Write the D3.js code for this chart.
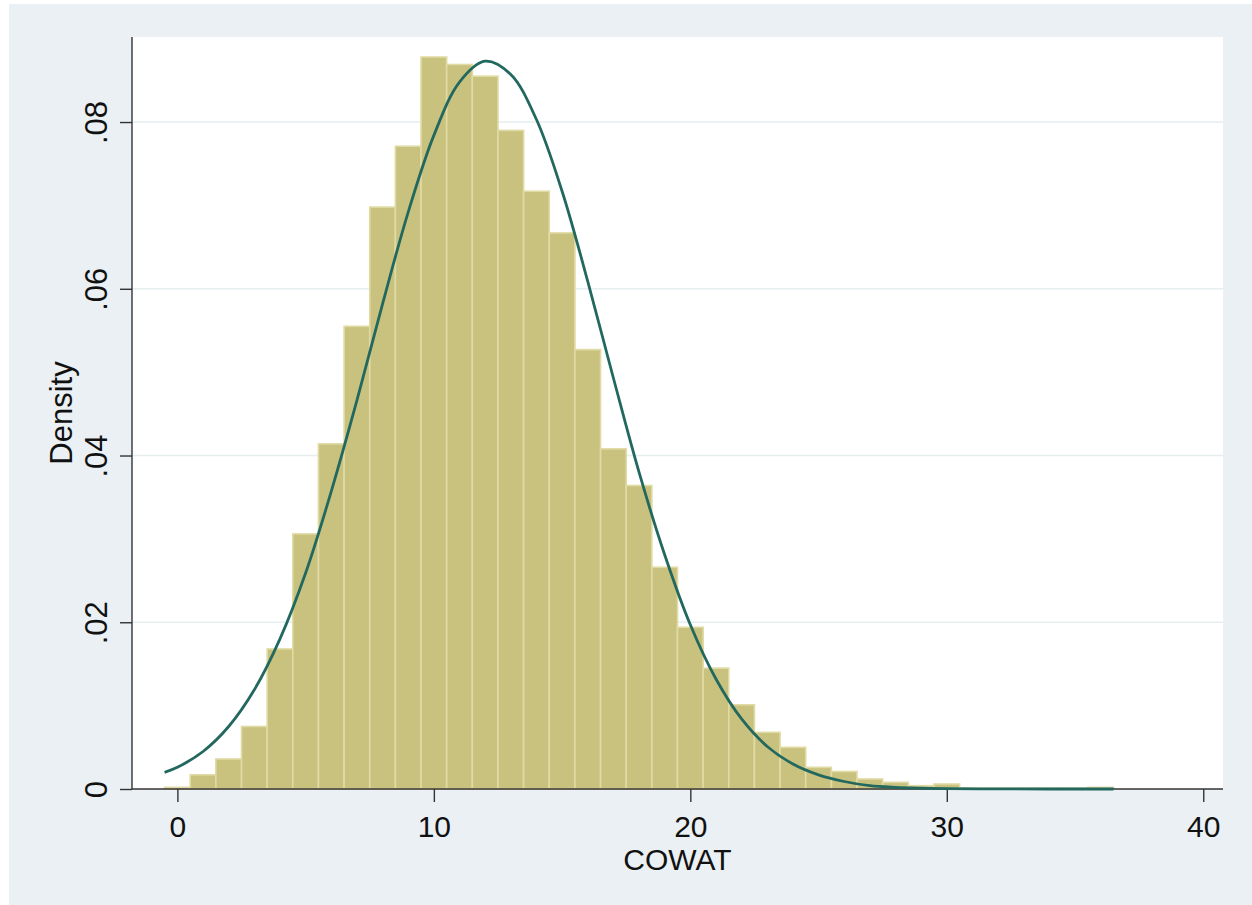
<!DOCTYPE html>
<html>
<head>
<meta charset="utf-8">
<script src="https://cdn.jsdelivr.net/npm/d3@7"></script>
<style>
  html, body { margin: 0; padding: 0; background: #fff; }
  svg { display: block; font-family: "Liberation Sans", Arial, Helvetica, sans-serif; }
</style>
</head>
<body>
<svg id="chart" width="1252" height="905"></svg>
<script>
// histogram bins: centred on integer COWAT scores, width 1
const binCenters = d3.range(0, 37);
const binDensity = [
  0.0002, 0.0017, 0.0036, 0.0075, 0.0168, 0.0306, 0.0414, 0.0555, 0.0698, 0.0771,
  0.0878, 0.0869, 0.0855, 0.0790, 0.0717, 0.0667, 0.0527, 0.0408, 0.0364, 0.0266,
  0.0194, 0.0145, 0.0101, 0.0068, 0.0050, 0.0026, 0.0021, 0.0012, 0.0008, 0.0004,
  0.0006, 0.0001, 0.0001, 0.0001, 0.0001, 0.0001, 0.0002
];
const binWidth = 1;

// normal density overlay
const curveX = [-0.5, 0, 1, 2, 3, 4, 5, 6, 7, 8, 9, 10, 11, 12, 13, 14, 15, 16, 17, 18,
  19, 20, 21, 22, 23, 24, 25, 26, 27, 28, 29, 30, 32, 34, 36.5];
const curveY = [0.0020, 0.0026, 0.0045, 0.0075, 0.0119, 0.0180, 0.0259, 0.0357, 0.0466, 0.0582,
  0.0692, 0.0784, 0.0848, 0.0873, 0.0857, 0.0803, 0.0717, 0.0609, 0.0493, 0.0380,
  0.0281, 0.0197, 0.0132, 0.0084, 0.0051, 0.0030, 0.0017, 0.0009, 0.0004, 0.0002,
  0.0001, 0.00004, 0.00001, 0, 0];

const xTicks = [0, 10, 20, 30, 40];
const yTicks = [0, 0.02, 0.04, 0.06, 0.08];
const xTitle = "COWAT";
const yTitle = "Density";

const svg = d3.select("#chart");
const plot = { left: 132, right: 1223, top: 37, bottom: 789 };

const x = d3.scaleLinear().domain([-1.77, 40.77]).range([plot.left, plot.right]);
const y = d3.scaleLinear().domain([0, 0.0902]).range([plot.bottom, plot.top]);

// outer background and plot region
svg.append("rect").attr("x", 9).attr("y", 4).attr("width", 1243).attr("height", 901).attr("fill", "#EAF0F4");
svg.append("rect")
  .attr("x", plot.left).attr("y", plot.top)
  .attr("width", plot.right - plot.left).attr("height", plot.bottom - plot.top)
  .attr("fill", "#fff");

// gridlines
svg.append("g").selectAll("line")
  .data(yTicks.filter(d => d > 0))
  .join("line")
  .attr("x1", plot.left).attr("x2", plot.right)
  .attr("y1", d => y(d)).attr("y2", d => y(d))
  .attr("stroke", "#E6EEF0")
  .attr("stroke-width", 1.6);

// bars
svg.append("g").selectAll("rect")
  .data(binCenters.map((c, i) => ({ c, v: binDensity[i] })))
  .join("rect")
  .attr("x", d => x(d.c - binWidth / 2))
  .attr("width", d => x(d.c + binWidth / 2) - x(d.c - binWidth / 2))
  .attr("y", d => y(d.v))
  .attr("height", d => y(0) - y(d.v))
  .attr("fill", "#C9C27F")
  .attr("stroke", "#E0DAA4")
  .attr("stroke-width", 1.6);

// axes
const fmtY = d => d === 0 ? "0" : d3.format(".2f")(d).replace(/^0/, "");

const gy = svg.append("g")
  .attr("transform", `translate(${plot.left},0)`)
  .call(d3.axisLeft(y).tickValues(yTicks).tickFormat(fmtY).tickSize(12).tickSizeOuter(0));
gy.select(".domain").attr("d", `M0,${plot.top}V${plot.bottom}`);
gy.selectAll(".tick text")
  .attr("x", null).attr("dy", null)
  .attr("transform", "translate(-25,0) rotate(-90)")
  .attr("text-anchor", "middle")
  .attr("font-size", 31)
  .attr("fill", "#111");

const gx = svg.append("g")
  .attr("transform", `translate(0,${plot.bottom})`)
  .call(d3.axisBottom(x).tickValues(xTicks).tickFormat(d3.format("d")).tickSize(13).tickSizeOuter(0));
gx.select(".domain").attr("d", `M${plot.left},0H${plot.right}`);
gx.selectAll(".tick text")
  .attr("dy", null)
  .attr("y", 48)
  .attr("font-size", 30)
  .attr("fill", "#111");

svg.selectAll(".domain, .tick line").attr("stroke", "#333").attr("stroke-width", 1.4);

// normal curve
const line = d3.line()
  .x((d, i) => x(curveX[i]))
  .y(d => y(d))
  .curve(d3.curveCatmullRom.alpha(0.5));

svg.append("path")
  .datum(curveY)
  .attr("fill", "none")
  .attr("stroke", "#22685F")
  .attr("stroke-width", 2.8)
  .attr("d", line);

// axis titles
svg.append("text")
  .attr("x", (plot.left + plot.right) / 2)
  .attr("y", 870)
  .attr("text-anchor", "middle")
  .attr("font-size", 30)
  .attr("fill", "#111")
  .text(xTitle);

svg.append("text")
  .attr("transform", `translate(72,${(plot.top + plot.bottom) / 2}) rotate(-90)`)
  .attr("text-anchor", "middle")
  .attr("font-size", 31)
  .attr("fill", "#111")
  .text(yTitle);
</script>
</body>
</html>
